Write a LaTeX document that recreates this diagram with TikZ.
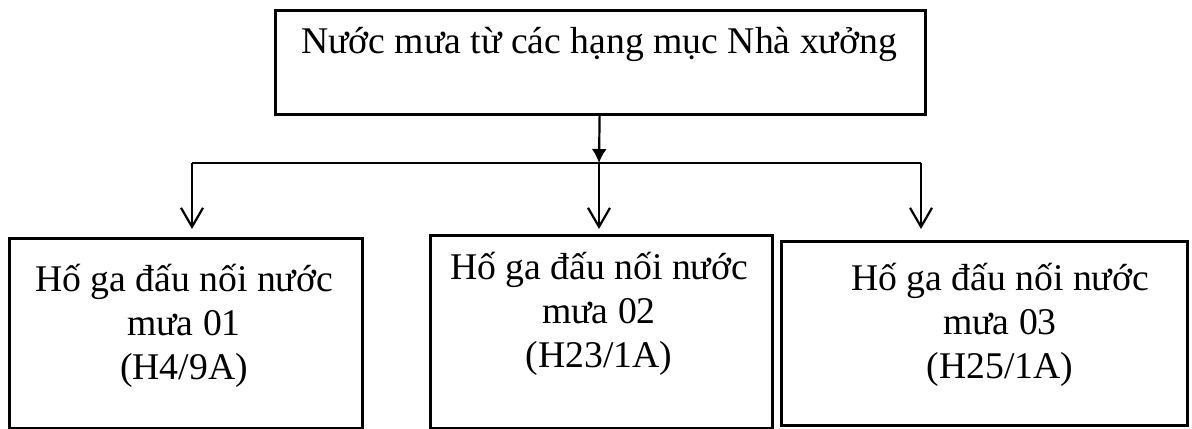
\documentclass[tikz,border=0pt]{standalone}
\usepackage{fontspec}
\setmainfont{Liberation Serif}
\usetikzlibrary{arrows.meta}
\begin{document}
\begin{tikzpicture}[x=0.5pt,y=-0.5pt,
    box/.style={draw,line width=1.3pt,inner sep=0pt,anchor=north west},
    txt/.style={anchor=base,align=center,inner sep=0pt,
      font=\fontsize{18.85pt}{22pt}\selectfont},
    link/.style={line width=1.1pt},
    down/.style={link,-{Straight Barb[length=9.5pt,width=11pt]}},
    feed/.style={link,-{Latex[length=7pt,width=7.5pt]}}]
  \useasboundingbox (0,0) rectangle (1192,428);
  \node[box,minimum width=325pt,minimum height=52pt] (top) at (274,9) {};
  \node[box,minimum width=176.5pt,minimum height=95pt] (1) at (8,237) {};
  \node[box,minimum width=171pt,minimum height=96.5pt] (2) at (429,234) {};
  \node[box,minimum width=203pt,minimum height=92pt] (3) at (780,240) {};
  \node[txt] (top text) at (599,53) {Nước mưa từ các hạng mục Nhà xưởng};
  \node[txt] (1 text) at (184,379)
    {Hố ga đấu nối nước\\mưa 01\hspace*{0.65em}\\(H4/9A)};
  \node[txt] (2 text) at (599,367)
    {Hố ga đấu nối nước\\mưa 02\hspace*{0.65em}\\(H23/1A)};
  \node[txt] (3 text) at (1000,378)
    {Hố ga đấu nối nước\\mưa 03\hspace*{0.65em}\\(H25/1A)};
  \coordinate (j) at (599,163);
  \coordinate (l) at (192,163);
  \coordinate (r) at (921,163);
  \coordinate (e1) at (192,229);
  \coordinate (e2) at (599,229);
  \coordinate (e3) at (921,229);
  \draw[feed] (top) -- (j);
  \draw[link] (l) -- (r);
  \begin{scope}[down]
    \draw (l) -- (e1);
    \draw (j) -- (e2);
    \draw (r) -- (e3);
  \end{scope}
\end{tikzpicture}
\end{document}
